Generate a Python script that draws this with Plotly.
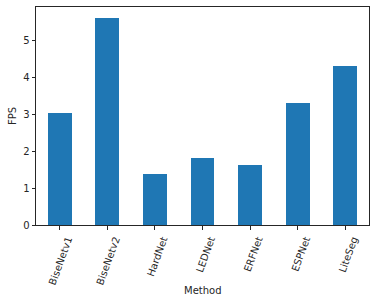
import plotly.graph_objects as go

methods = ["BiseNetv1", "BiseNetv2", "HardNet", "LEDNet", "ERFNet", "ESPNet", "LiteSeg"]
fps = [3.03, 5.63, 1.38, 1.82, 1.63, 3.30, 4.31]
y_ticks = [0, 1, 2, 3, 4, 5]

fig = go.Figure(go.Bar(x=list(range(len(methods))), y=fps, width=0.5,
                       marker=dict(color="#1f77b4", line=dict(width=0))))

font = dict(family="DejaVu Sans", size=10, color="#262626")
fig.update_layout(
    width=376, height=304,
    margin=dict(l=36, r=7, t=7, b=79, autoexpand=False),
    paper_bgcolor="white", plot_bgcolor="white",
    showlegend=False, font=font, bargap=0,
)
fig.update_xaxes(
    range=[-0.5, len(methods) - 0.5], automargin=False,
    tickmode="array", tickvals=list(range(len(methods))), ticktext=methods,
    tickangle=-70, ticks="outside", ticklen=3.5, tickcolor="#262626", tickwidth=1,
    ticklabelshift=8,
    showline=True, linecolor="#262626", linewidth=1, mirror=True,
    showgrid=False, zeroline=False, tickfont=font,
)
fig.update_yaxes(
    range=[0, 5.92], tickmode="array", tickvals=y_ticks, automargin=False,
    ticks="outside", ticklen=3.5, tickcolor="#262626", tickwidth=1,
    showline=True, linecolor="#262626", linewidth=1, mirror=True,
    showgrid=False, zeroline=False, tickfont=font,
)
fig.add_annotation(text="Method", xref="paper", yref="paper", x=0.5, y=0,
                   yshift=-65, showarrow=False, font=font, yanchor="middle")
fig.add_annotation(text="FPS", xref="paper", yref="paper", x=0, y=0.5,
                   xshift=-24, showarrow=False, font=font, textangle=-90,
                   xanchor="center")
fig.write_html("out.html", config={"displayModeBar": False},
               post_script="document.body.style.margin='0';")
